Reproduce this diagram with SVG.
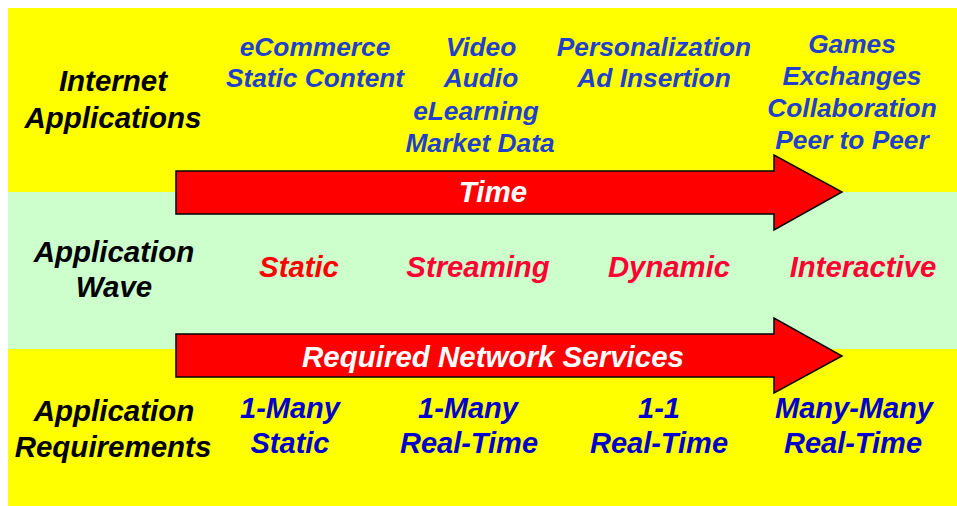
<svg xmlns="http://www.w3.org/2000/svg" width="957" height="506" viewBox="0 0 957 506">
  <style>
    text { font-family: "Liberation Sans", Arial, sans-serif; font-weight: bold; font-style: italic; text-anchor: middle; }
    .head { font-size: 29.5px; fill: #000000; }
    .app { font-size: 26.3px; fill: #1F3FCC; }
    .wave { font-size: 29.3px; fill: #FF0033; }
    .req { font-size: 29px; fill: #0000CC; }
    .label { font-size: 29.5px; fill: #FFFFFF; }
    .arrow { fill: #FF0000; stroke: #000000; stroke-width: 1.5; stroke-linejoin: miter; }
  </style>
  <rect x="0" y="0" width="957" height="506" fill="#FFFFFF"/>

  <!-- background bands -->
  <g id="bands">
    <rect x="8" y="8" width="949" height="184" fill="#FFFF00"/>
    <rect x="8" y="192" width="949" height="157" fill="#CCFFCC"/>
    <rect x="8" y="349" width="949" height="157" fill="#FFFF00"/>
  </g>

  <!-- row headings -->
  <g id="heading-internet">
    <text class="head" x="113" y="91">Internet</text>
    <text class="head" x="113" y="128">Applications</text>
  </g>
  <g id="heading-wave">
    <text class="head" x="114" y="262">Application</text>
    <text class="head" x="114" y="297">Wave</text>
  </g>
  <g id="heading-requirements">
    <text class="head" x="114" y="421">Application</text>
    <text class="head" x="113" y="457">Requirements</text>
  </g>

  <!-- internet applications -->
  <g id="apps-static">
    <text class="app" x="315" y="56">eCommerce</text>
    <text class="app" x="315" y="87">Static Content</text>
  </g>
  <g id="apps-streaming">
    <text class="app" x="481" y="56">Video</text>
    <text class="app" x="481" y="87">Audio</text>
    <text class="app" x="476" y="120">eLearning</text>
    <text class="app" x="480" y="152">Market Data</text>
  </g>
  <g id="apps-dynamic">
    <text class="app" x="654" y="56">Personalization</text>
    <text class="app" x="654" y="87">Ad Insertion</text>
  </g>
  <g id="apps-interactive">
    <text class="app" x="852" y="53">Games</text>
    <text class="app" x="852" y="85">Exchanges</text>
    <text class="app" x="852" y="117">Collaboration</text>
    <text class="app" x="852" y="149">Peer to Peer</text>
  </g>

  <!-- arrows -->
  <g id="connectors">
    <g id="arrow-time">
      <polygon class="arrow" points="176,171 774,171 774,155 842,192 774,230 774,214 176,214"/>
      <text class="label" x="493" y="202">Time</text>
    </g>
    <g id="arrow-services">
      <polygon class="arrow" points="176,334 774,334 774,318 842,356 774,393 774,377 176,377"/>
      <text class="label" x="493" y="367">Required Network Services</text>
    </g>
  </g>

  <!-- application waves -->
  <g id="wave-static"><text class="wave" x="299" y="277" style="fill:#FF0000">Static</text></g>
  <g id="wave-streaming"><text class="wave" x="478" y="277">Streaming</text></g>
  <g id="wave-dynamic"><text class="wave" x="669" y="277">Dynamic</text></g>
  <g id="wave-interactive"><text class="wave" x="863" y="277">Interactive</text></g>

  <!-- application requirements -->
  <g id="req-static">
    <text class="req" x="290" y="418">1-Many</text>
    <text class="req" x="290" y="453">Static</text>
  </g>
  <g id="req-streaming">
    <text class="req" x="468" y="418">1-Many</text>
    <text class="req" x="469" y="453">Real-Time</text>
  </g>
  <g id="req-dynamic">
    <text class="req" x="659" y="418">1-1</text>
    <text class="req" x="659" y="453">Real-Time</text>
  </g>
  <g id="req-interactive">
    <text class="req" x="854" y="418">Many-Many</text>
    <text class="req" x="853" y="453">Real-Time</text>
  </g>
</svg>
